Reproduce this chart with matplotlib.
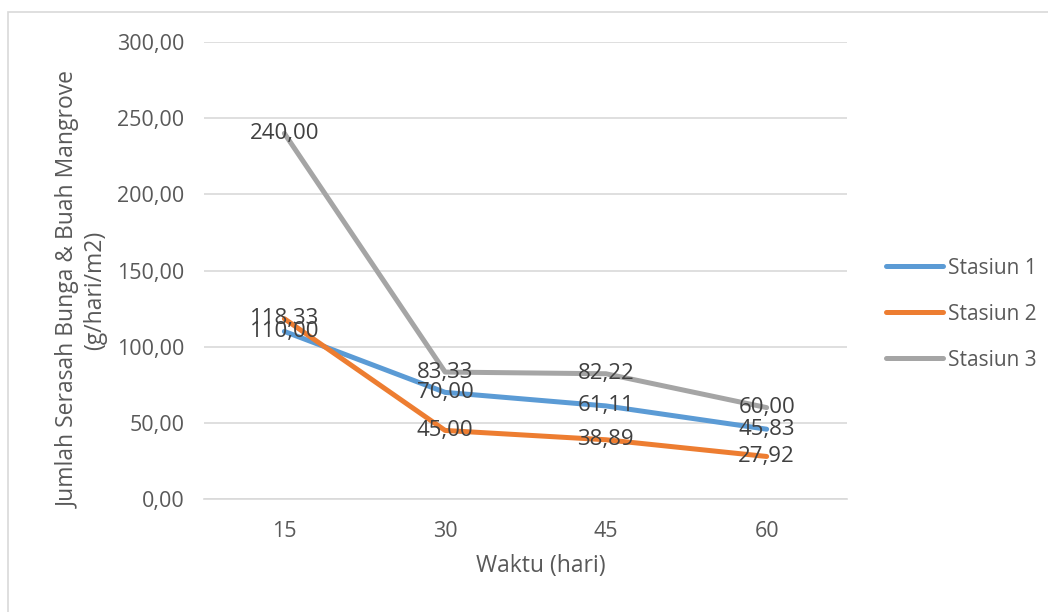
import matplotlib.pyplot as plt
from matplotlib.patches import Rectangle

# data
waktu = ['15', '30', '45', '60']
stasiun_1 = [110.00, 70.00, 61.11, 45.83]
stasiun_2 = [118.33, 45.00, 38.89, 27.92]
stasiun_3 = [240.00, 83.33, 82.22, 60.00]
series_names = ['Stasiun 1', 'Stasiun 2', 'Stasiun 3']
colors = ['#5B9BD5', '#ED7D31', '#A5A5A5']

plt.rcParams['font.family'] = ['Open Sans', 'DejaVu Sans']

fig = plt.figure(figsize=(10.48, 6.12), dpi=100)
ax = fig.add_axes([204 / 1048, 1 - 499 / 612, 643 / 1048, 457 / 612])

# chart border like excel
fig.patches.append(Rectangle((8 / 1048, -0.1), 1.2, 1 - 12 / 612 + 0.1,
                             transform=fig.transFigure, fill=False,
                             edgecolor='#D9D9D9', linewidth=1.2))

x = list(range(len(waktu)))
lines = []
for vals, name, c in zip([stasiun_1, stasiun_2, stasiun_3], series_names, colors):
    ln, = ax.plot(x, vals, color=c, linewidth=3.6, label=name, solid_capstyle='round')
    lines.append(ln)

# data labels centred on the points
for vals in [stasiun_1, stasiun_2, stasiun_3]:
    for xi, v in zip(x, vals):
        ax.text(xi, v, f'{v:.2f}'.replace('.', ','), ha='center', va='center',
                fontsize=16, color='#404040')

ax.set_xlim(-0.5, 3.5)
ax.set_ylim(0, 300)
ax.set_yticks(range(0, 301, 50))
ax.set_yticklabels([f'{t},00' for t in range(0, 301, 50)])
ax.set_xticks(x)
ax.set_xticklabels(waktu)
ax.grid(axis='y', color='#D9D9D9', linewidth=1.2)
ax.set_axisbelow(True)
for s in ['top', 'right', 'left']:
    ax.spines[s].set_visible(False)
ax.spines['bottom'].set_color('#D9D9D9')
ax.spines['bottom'].set_linewidth(1.2)
ax.tick_params(length=0, labelsize=15.5, labelcolor='#595959')
ax.tick_params(axis='y', pad=14)
ax.tick_params(axis='x', pad=16)

fig.text(541 / 1048, 1 - 566 / 612, 'Waktu (hari)', fontsize=16.5, color='#595959',
         ha='center', va='center')
fig.text(82 / 1048, 1 - 290 / 612, 'Jumlah Serasah Bunga & Buah Mangrove\n(g/hari/m2)',
         fontsize=16.5, color='#595959', ha='center', va='center', rotation=90,
         linespacing=1.15, multialignment='center')

leg = fig.legend(handles=lines, loc='center left',
                 bbox_to_anchor=(878 / 1048, 1 - 314 / 612), frameon=False,
                 fontsize=15, handlelength=2.7, labelspacing=1.2,
                 handletextpad=0.25, borderaxespad=0)
for t in leg.get_texts():
    t.set_color('#595959')

fig.savefig('out.png', dpi=100)
